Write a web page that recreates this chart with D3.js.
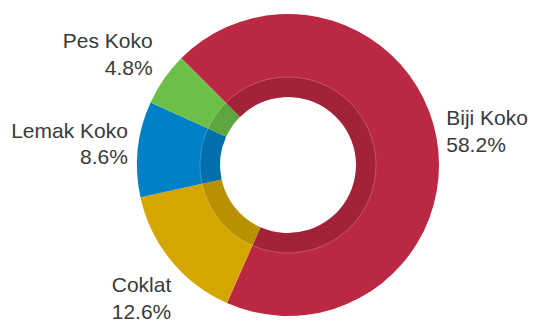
<!DOCTYPE html>
<html>
<head>
<meta charset="utf-8">
<script src="https://cdn.jsdelivr.net/npm/d3@7"></script>
<style>
  html, body { margin: 0; padding: 0; background: #fff; }
  svg { display: block; }
  text { font-family: "Liberation Sans", Arial, Helvetica, sans-serif; fill: #3a3a3a; }
</style>
</head>
<body>
<svg id="chart" width="535" height="322"></svg>
<script>
// Cocoa product shares
const categories = ["Biji Koko", "Coklat", "Lemak Koko", "Pes Koko"];
const values = [58.2, 12.6, 8.6, 4.8];
const colors = ["#bb2843", "#d3a700", "#0080c6", "#6cc04a"];

const width = 535, height = 322;
const cx = 288, cy = 165;
const outerR = 151, bandR = 88, innerR = 68;

const svg = d3.select("#chart");
const g = svg.append("g").attr("transform", `translate(${cx},${cy})`);

const data = categories.map((c, i) => ({ name: c, value: values[i], color: colors[i] }));

const startA = -45 * Math.PI / 180;
const pie = d3.pie()
  .value(d => d.value)
  .sort(null)
  .startAngle(startA)
  .endAngle(startA + 2 * Math.PI);

const arcs = pie(data);

const arcOuter = d3.arc().innerRadius(innerR).outerRadius(outerR);
const arcBand = d3.arc().innerRadius(innerR).outerRadius(bandR);

// main slices
g.selectAll("path.slice")
  .data(arcs)
  .join("path")
  .attr("class", "slice")
  .attr("d", arcOuter)
  .attr("fill", d => d.data.color);

// darker inner band
g.selectAll("path.band")
  .data(arcs)
  .join("path")
  .attr("class", "band")
  .attr("d", arcBand)
  .attr("fill", "#000")
  .attr("fill-opacity", 0.13);

g.append("circle")
  .attr("r", bandR)
  .attr("fill", "none")
  .attr("stroke", "#fff")
  .attr("stroke-opacity", 0.22)
  .attr("stroke-width", 1);

// labels placed along an ellipse around the ring, with a small
// outward push for the ones near the crowded lower/upper left
const labelRx = 161, labelRy = 200;
const fmt = d3.format(".1f");

function labelPos(d) {
  const a = (d.startAngle + d.endAngle) / 2;
  let x = labelRx * Math.sin(a);
  let y = -labelRy * Math.cos(a);
  const s = Math.sin(a), c = -Math.cos(a);
  // spread labels on the left side a little away from their neighbours
  if (s < 0 && c > 0.3) { x += 8; y += 7; }
  if (s < 0 && c < -0.3) { x += -3; y += 3; }
  if (s > 0) { y += 3; }
  return [x, y];
}

const labels = g.selectAll("g.label")
  .data(arcs)
  .join("g")
  .attr("class", "label")
  .attr("transform", d => `translate(${labelPos(d)})`);

labels.each(function(d) {
  const a = (d.startAngle + d.endAngle) / 2;
  const anchor = Math.sin(a) >= 0 ? "start" : "end";
  const sel = d3.select(this);
  sel.append("text")
    .attr("text-anchor", anchor)
    .attr("y", -6)
    .attr("font-size", 21)
    .text(d.data.name);
  sel.append("text")
    .attr("text-anchor", anchor)
    .attr("y", 20.6)
    .attr("font-size", 21)
    .text(fmt(d.data.value) + "%");
});
</script>
</body>
</html>
